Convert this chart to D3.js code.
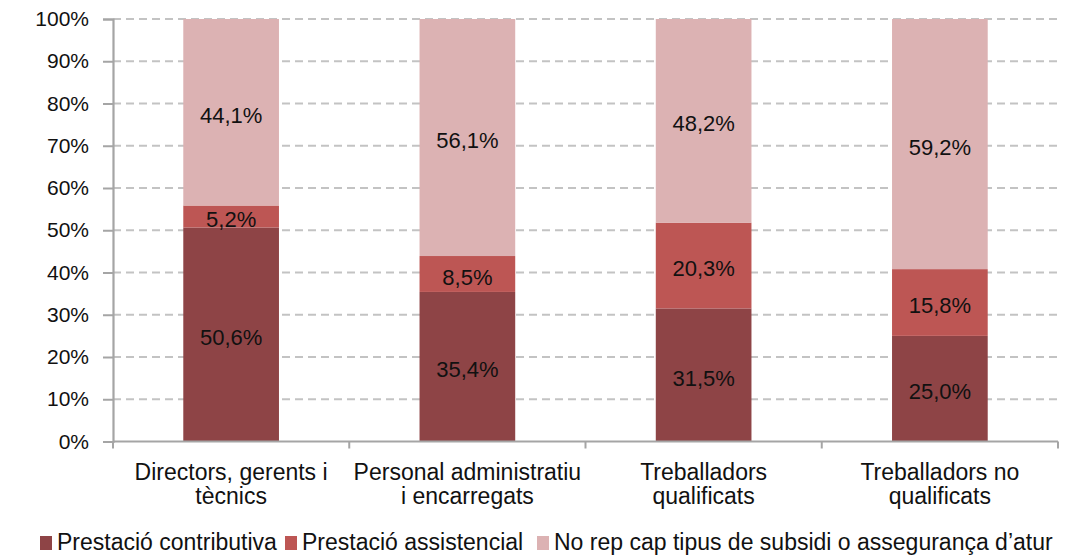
<!DOCTYPE html>
<html><head><meta charset="utf-8">
<script src="https://cdn.jsdelivr.net/npm/d3@7"></script>
<style>
body{margin:0;background:#fff;}
text{font-family:"Liberation Sans",Arial,sans-serif;fill:#111;}
</style></head>
<body><svg id="c" width="1088" height="558"></svg>
<script>
const categories = [["Directors, gerents i","tècnics"],["Personal administratiu","i encarregats"],["Treballadors","qualificats"],["Treballadors no","qualificats"]];
const seriesNames = ["Prestació contributiva","Prestació assistencial","No rep cap tipus de subsidi o assegurança d’atur"];
const contributiva = [50.6, 35.4, 31.5, 25.0];
const assistencial = [5.2, 8.5, 20.3, 15.8];
const noRep = [44.1, 56.1, 48.2, 59.2];
const yTicks = [0,10,20,30,40,50,60,70,80,90,100];
const colors = ["#8E4446","#BD5654","#DCB2B3"];

(function(){
const svg = d3.select("#c");
const mL = 113, mR = 1058, mT = 19, mB = 441.5;
const rows = categories.map((c,i)=>({i, c: contributiva[i], a: assistencial[i], n: noRep[i]}));
const keys = ["c","a","n"];
const values = [contributiva, assistencial, noRep];
const stacked = d3.stack().keys(keys).offset(d3.stackOffsetExpand)(rows);

const x = d3.scaleBand().domain(d3.range(categories.length)).range([mL,mR]).padding(0);
const y = d3.scaleLinear().domain([0,1]).range([mB,mT]);
const barW = x.bandwidth()*0.405;

svg.append("g").selectAll("line").data(yTicks.filter(t=>t>0)).join("line")
  .attr("x1",mL).attr("x2",mR)
  .attr("y1",d=>y(d/100)).attr("y2",d=>y(d/100))
  .attr("stroke","#C3C3C3").attr("stroke-width",2).attr("stroke-dasharray","8,5");

const g = svg.append("g");
stacked.forEach((s,si)=>{
  g.append("g").selectAll("rect").data(s).join("rect")
    .attr("x",(d,i)=>x(i)+x.bandwidth()/2-barW/2)
    .attr("width",barW)
    .attr("y",d=>y(d[1]))
    .attr("height",d=>y(d[0])-y(d[1]))
    .attr("fill",colors[si]);
});
stacked.forEach((s,si)=>{
  g.append("g").selectAll("text").data(s).join("text")
    .attr("x",(d,i)=>x(i)+x.bandwidth()/2)
    .attr("y",d=>(y(d[0])+y(d[1]))/2)
    .attr("dy","0.48em")
    .attr("text-anchor","middle")
    .attr("font-size",22)
    .text((d,i)=>values[si][i].toFixed(1).replace(".",",")+"%");
});

const yAxis = d3.axisLeft(y).tickValues(yTicks.map(t=>t/100)).tickSize(10).tickPadding(14)
  .tickFormat(d=>Math.round(d*100)+"%");
const ya = svg.append("g").attr("transform",`translate(${mL},0)`).call(yAxis);
ya.select(".domain").attr("stroke","#A5A5A5").attr("stroke-width",2.2);
ya.selectAll(".tick line").attr("stroke","#A5A5A5").attr("stroke-width",2);
ya.selectAll(".tick text").attr("font-size",21).attr("font-family","Liberation Sans, Arial, sans-serif").attr("fill","#111");

const xb = d3.scaleLinear().domain([0,categories.length]).range([mL,mR]);
const xa = svg.append("g").attr("transform",`translate(0,${mB})`);
xa.append("line").attr("x1",mL).attr("x2",mR).attr("stroke","#A5A5A5").attr("stroke-width",2.2);
xa.selectAll("line.t").data(d3.range(categories.length+1)).join("line").attr("class","t")
  .attr("x1",d=>xb(d)).attr("x2",d=>xb(d)).attr("y1",0).attr("y2",7)
  .attr("stroke","#A5A5A5").attr("stroke-width",2);
const cl = svg.append("g").selectAll("text").data(categories).join("text")
  .attr("text-anchor","middle").attr("font-size",23)
  .attr("x",(d,i)=>x(i)+x.bandwidth()/2).attr("y",480);
cl.selectAll("tspan").data(d=>d).join("tspan")
  .attr("x",function(){return this.parentNode.getAttribute("x");})
  .attr("dy",(d,j)=>j===0?0:24).text(d=>d);

const legX = [40, 285, 537];
const lg = svg.append("g").selectAll("g").data(seriesNames).join("g")
  .attr("transform",(d,i)=>`translate(${legX[i]},0)`);
lg.append("rect").attr("x",0).attr("y",536).attr("width",12).attr("height",14).attr("fill",(d,i)=>colors[i]);
lg.append("text").attr("x",17).attr("y",550).attr("font-size",23).text(d=>d);
})();
</script></body></html>
